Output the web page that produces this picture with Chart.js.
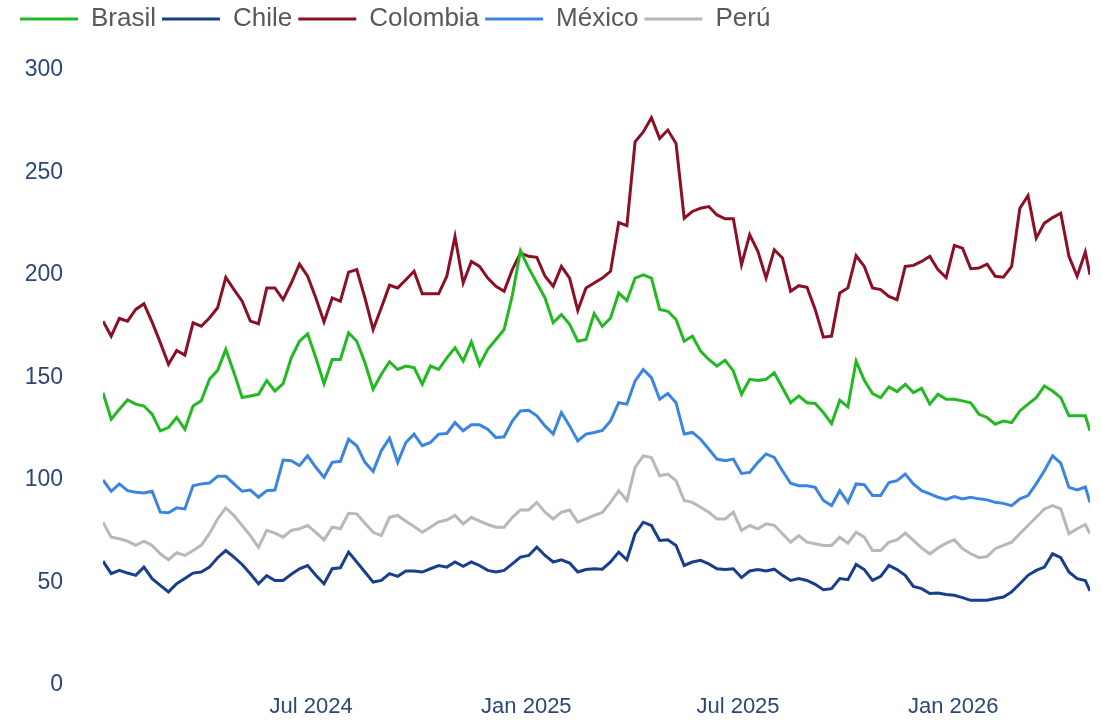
<!DOCTYPE html>
<html lang="es">
<head>
<meta charset="utf-8">
<title>Índice semanal por país</title>
<script src="https://cdn.jsdelivr.net/npm/chart.js@4.4.1/dist/chart.umd.min.js"></script>
<style>
    html, body { margin: 0; padding: 0; background: #ffffff; }
    #chart { display: block; }
</style>
</head>
<body>
<canvas id="chart" width="1102" height="722"></canvas>
<script>
/**
 * Weekly series per country
 */
const FIRST_WEEK = '2024-01-05';
const WEEK_COUNT = 121;
const LAST_DATE = '2026-04-28';

const TICK_DATES = ['2024-07-01', '2025-01-01', '2025-07-01', '2026-01-01'];
const TICK_LABELS = ['Jul 2024', 'Jan 2025', 'Jul 2025', 'Jan 2026'];

const Y_TICKS = [0, 50, 100, 150, 200, 250, 300];

const BRASIL = [
    142.6, 129.7, 134.5, 139.1, 137.0, 136.1, 132.1, 124.0, 125.6, 130.5,
    124.8, 136.1, 138.6, 149.1, 153.5, 163.7, 152.3, 140.2, 141.0, 141.8,
    148.5, 143.4, 147.0, 159.6, 167.7, 171.3, 159.6, 147.0, 158.8, 158.8,
    171.8, 167.7, 157.2, 144.3, 151.6, 157.7, 153.9, 155.6, 154.8, 146.7,
    155.6, 153.9, 159.6, 164.5, 158.0, 167.4, 156.1, 163.7, 168.5, 173.4,
    190.0, 211.8, 203.4, 196.1, 188.8, 176.7, 180.7, 175.9, 167.7, 168.5,
    181.2, 175.0, 179.0, 191.2, 187.5, 198.5, 200.1, 198.5, 183.2, 182.3,
    178.3, 167.7, 170.2, 162.9, 158.8, 155.6, 158.4, 153.2, 141.8, 149.1,
    148.6, 149.1, 152.3, 145.0, 137.7, 141.0, 137.7, 137.3, 132.9, 127.5,
    138.9, 135.7, 158.0, 148.6, 142.2, 140.2, 145.4, 143.1, 146.7, 142.6,
    144.7, 137.0, 141.8, 139.4, 139.4, 138.6, 137.7, 132.1, 130.5, 127.2,
    128.8, 128.0, 133.7, 137.0, 140.2, 145.9, 143.4, 140.2, 131.3, 131.3,
    131.3, 124.0
];

const CHILE = [
    60.4, 54.3, 55.9, 54.6, 53.5, 57.5, 51.9, 48.6, 45.4, 49.4,
    51.9, 54.6, 55.1, 57.5, 62.1, 65.6, 62.4, 58.8, 54.3, 49.4,
    53.3, 51.0, 51.0, 54.0, 56.7, 58.3, 53.5, 49.4, 56.7, 57.2,
    64.8, 60.0, 55.1, 50.2, 51.0, 54.3, 53.0, 55.6, 55.6, 55.1,
    56.7, 58.3, 57.5, 60.0, 57.9, 60.0, 58.3, 55.9, 55.1, 55.9,
    59.1, 62.4, 63.2, 67.2, 63.2, 60.0, 61.1, 59.5, 55.1, 56.3,
    56.7, 56.5, 60.0, 64.8, 61.1, 73.8, 79.4, 77.8, 70.5, 70.8,
    68.1, 58.3, 60.0, 60.8, 59.1, 56.7, 56.3, 56.7, 52.4, 55.6,
    56.3, 55.6, 56.5, 53.5, 51.0, 51.9, 51.0, 49.1, 46.5, 47.0,
    51.9, 51.4, 58.8, 56.3, 51.0, 53.0, 58.3, 56.3, 53.5, 48.1,
    47.0, 44.6, 44.9, 44.2, 43.8, 42.6, 41.3, 41.3, 41.3, 42.2,
    42.9, 45.4, 49.4, 53.5, 55.9, 57.5, 64.0, 62.1, 55.1, 51.9,
    51.0, 45.9
];

const COLOMBIA = [
    177.5, 170.2, 178.8, 177.5, 183.2, 186.0, 177.0, 167.0, 156.4, 163.2,
    160.9, 176.7, 175.0, 179.0, 184.0, 198.9, 192.9, 187.2, 177.5, 176.2,
    193.7, 193.7, 188.0, 196.1, 205.3, 199.4, 188.8, 177.1, 188.8, 187.2,
    201.4, 202.6, 188.8, 173.4, 184.0, 195.0, 193.7, 197.7, 201.8, 190.8,
    190.8, 190.8, 199.4, 218.8, 196.1, 206.6, 204.2, 198.5, 194.5, 192.1,
    202.6, 210.7, 209.1, 208.6, 199.4, 194.5, 204.2, 198.5, 182.7, 193.7,
    196.1, 198.5, 201.8, 225.6, 224.1, 265.0, 269.8, 276.7, 266.6, 270.7,
    264.2, 227.7, 231.0, 232.6, 233.4, 229.3, 227.4, 227.4, 205.0, 219.6,
    211.5, 198.5, 212.3, 208.3, 192.1, 194.8, 194.0, 183.2, 169.7, 170.2,
    191.2, 193.7, 209.4, 204.2, 193.7, 192.9, 189.6, 188.0, 204.2, 204.7,
    206.6, 209.1, 202.6, 198.7, 214.4, 213.1, 203.1, 203.4, 205.3, 199.4,
    198.9, 204.2, 232.6, 238.7, 218.0, 225.3, 228.0, 230.1, 209.1, 199.4,
    211.2, 200.1
];

const MEXICO = [
    100.0, 94.5, 98.1, 94.8, 94.0, 93.7, 94.5, 84.3, 84.0, 86.4,
    85.9, 97.2, 98.1, 98.5, 101.8, 101.8, 98.1, 94.5, 95.1, 91.6,
    94.8, 95.1, 109.7, 109.4, 107.0, 111.8, 106.2, 101.3, 108.6, 109.1,
    119.9, 116.7, 108.6, 104.2, 114.3, 120.4, 108.6, 118.3, 122.4, 116.7,
    118.3, 122.4, 122.7, 128.0, 124.0, 126.9, 126.9, 124.8, 120.7, 121.1,
    128.8, 133.7, 134.0, 131.3, 126.4, 122.4, 132.9, 126.4, 119.1, 122.4,
    123.2, 124.2, 128.8, 137.7, 137.0, 148.3, 153.9, 149.9, 139.4, 142.2,
    137.7, 122.4, 123.2, 119.9, 115.1, 110.2, 109.4, 110.2, 103.2, 103.7,
    108.6, 112.7, 111.0, 104.5, 98.4, 97.2, 97.2, 96.4, 90.0, 87.5,
    94.8, 89.1, 98.1, 97.7, 92.4, 92.4, 98.8, 99.7, 102.9, 98.1,
    94.8, 93.2, 91.6, 90.5, 91.9, 90.8, 91.6, 90.8, 90.3, 89.1,
    88.6, 87.5, 90.8, 92.4, 98.1, 104.5, 111.8, 108.2, 96.4, 95.2,
    96.6, 89.1
];

const PERU = [
    79.4, 72.1, 71.3, 70.2, 68.1, 70.2, 68.1, 64.0, 61.1, 64.5,
    63.2, 65.6, 68.1, 73.8, 81.0, 86.4, 82.7, 77.8, 72.9, 67.2,
    75.4, 74.1, 72.1, 75.4, 76.2, 77.8, 74.5, 70.8, 77.0, 76.2,
    83.8, 83.5, 78.9, 74.5, 72.9, 81.8, 82.7, 79.9, 77.3, 74.5,
    77.0, 79.6, 80.5, 82.7, 78.6, 81.8, 79.9, 78.3, 77.0, 77.0,
    81.8, 85.4, 85.4, 89.1, 84.3, 81.0, 84.3, 85.4, 79.4, 81.0,
    82.7, 84.2, 89.1, 94.8, 90.0, 106.2, 111.8, 111.0, 102.1, 102.9,
    99.7, 90.0, 89.1, 86.7, 84.3, 81.0, 81.0, 84.3, 75.4, 77.8,
    76.2, 78.6, 77.9, 73.8, 69.7, 72.9, 69.7, 68.9, 68.1, 68.1,
    72.1, 69.2, 74.5, 72.1, 65.6, 65.6, 69.7, 70.8, 74.1, 70.5,
    66.9, 64.0, 66.8, 69.2, 70.8, 66.5, 64.0, 62.1, 62.7, 66.5,
    68.1, 69.7, 73.8, 77.8, 81.8, 85.9, 87.5, 85.9, 73.8, 76.2,
    78.3, 73.8
];

/**
 * Palette
 */
const COLORS = {
    brasil: '#22b922',
    chile: '#173f8c',
    colombia: '#8b1026',
    mexico: '#3a84e2',
    peru: '#b8b8b8',
    tick: '#2c4776',
    legend: '#595959'
};

const FONT_FAMILY = "'Liberation Sans', Arial, sans-serif";

// Dates -> day numbers for the linear x axis
function toDay(s) {
    const [y, m, d] = s.split('-').map(Number);
    return Date.UTC(y, m - 1, d) / 86400000;
}

const DAYS = [];
for (let i = 0; i < WEEK_COUNT; i++) {
    DAYS.push(toDay(FIRST_WEEK) + 7 * i);
}
DAYS.push(toDay(LAST_DATE));

function toPoints(values) {
    return values.map((v, i) => ({ x: DAYS[i], y: v }));
}

function makeDataset(label, values, color) {
    return {
        label: label,
        data: toPoints(values),
        borderColor: color,
        backgroundColor: color,
        borderWidth: 3,
        pointRadius: 0,
        tension: 0,
        fill: false
    };
}

// Push the plot area down below the legend
const legendSpacer = {
    id: 'legendSpacer',
    beforeInit(chart) {
        const originalFit = chart.legend.fit;
        chart.legend.fit = function () {
            originalFit.bind(chart.legend)();
            this.height = 70;
        };
    }
};

Chart.defaults.font.family = FONT_FAMILY;

new Chart(document.getElementById('chart'), {
    type: 'line',
    data: {
        datasets: [
            makeDataset('Brasil', BRASIL, COLORS.brasil),
            makeDataset('Chile', CHILE, COLORS.chile),
            makeDataset('Colombia', COLOMBIA, COLORS.colombia),
            makeDataset('México', MEXICO, COLORS.mexico),
            makeDataset('Perú', PERU, COLORS.peru)
        ]
    },
    options: {
        responsive: false,
        animation: false,
        devicePixelRatio: 1,
        layout: {
            padding: { left: 14, right: 12, top: 0, bottom: 0 }
        },
        plugins: {
            legend: {
                position: 'top',
                align: 'start',
                labels: {
                    boxWidth: 58,
                    boxHeight: 3,
                    padding: 6,
                    color: COLORS.legend,
                    font: { size: 26, family: FONT_FAMILY },
                    generateLabels(chart) {
                        return Chart.defaults.plugins.legend.labels.generateLabels(chart)
                            .map(item => ({ ...item, fillStyle: item.strokeStyle, lineWidth: 0 }));
                    }
                }
            },
            tooltip: { enabled: false }
        },
        scales: {
            x: {
                type: 'linear',
                min: DAYS[0],
                max: DAYS[DAYS.length - 1],
                grid: { display: false, drawTicks: false },
                border: { display: false },
                afterBuildTicks(scale) {
                    scale.ticks = TICK_DATES.map(d => ({ value: toDay(d) }));
                },
                afterFit(scale) {
                    scale.height = 37;
                },
                ticks: {
                    autoSkip: false,
                    maxRotation: 0,
                    padding: 9,
                    color: COLORS.tick,
                    font: { size: 22 },
                    callback: (value, index) => TICK_LABELS[index]
                }
            },
            y: {
                min: 0,
                max: 300,
                grid: { display: false, drawTicks: false },
                border: { display: false },
                afterBuildTicks(scale) {
                    scale.ticks = Y_TICKS.map(v => ({ value: v }));
                },
                afterFit(scale) {
                    // the wide label gap should not eat vertical room
                    scale.width = 89;
                    scale.paddingTop = 0;
                    scale.paddingBottom = 0;
                },
                ticks: {
                    padding: 40,
                    color: COLORS.tick,
                    font: { size: 23 }
                }
            }
        }
    },
    plugins: [legendSpacer]
});
</script>
</body>
</html>
